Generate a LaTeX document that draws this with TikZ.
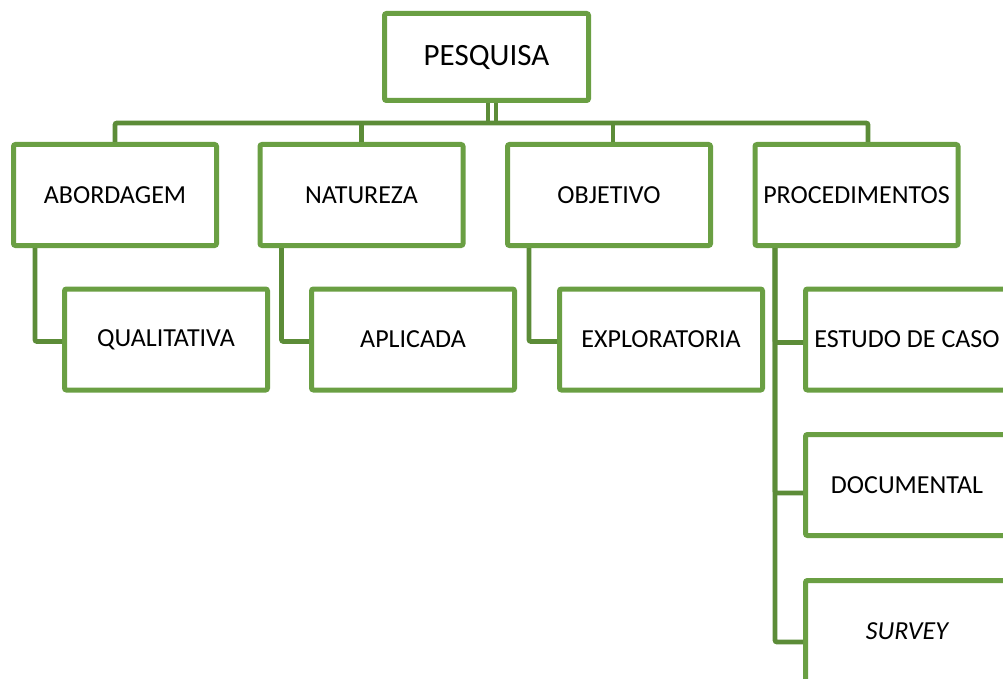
\documentclass[tikz,border=0pt]{standalone}
\usepackage{fontspec}
\setmainfont{Carlito}
\usetikzlibrary{positioning,backgrounds}
\definecolor{boxgreen}{RGB}{106,159,67}
\definecolor{linegreen}{RGB}{92,140,56}
\tikzset{%
  box/.style    = {rectangle, draw=boxgreen, line width=5pt, fill=white, rounded corners=2pt,
                   minimum width=203pt, minimum height=101pt, inner sep=0pt, align=center,
                   font=\fontsize{26}{31}\selectfont},
  topbox/.style = {box, minimum width=204pt, minimum height=87pt, font=\fontsize{31}{37}\selectfont},
  conn/.style   = {draw=linegreen, line width=4.8pt, rounded corners=2pt}
}
\begin{document}
\begin{tikzpicture}[x=1pt,y=-1pt]
  \useasboundingbox (0,0) rectangle (1003,679);
  \clip (0,0) rectangle (1003,679);
  % top
  \node[topbox] (pesquisa) at (486.5,57) {PESQUISA};
  % first level
  \node[box] (abordagem)     at (115,195)   {ABORDAGEM};
  \node[box] (natureza)      at (361.5,195) {NATUREZA};
  \node[box] (objetivo)      at (609,195)   {OBJETIVO};
  \node[box] (procedimentos) at (856.5,195) {PROCEDIMENTOS};
  % second level
  \node[box] (qualitativa)  at (166,339.5) {QUALITATIVA};
  \node[box] (aplicada)     at (413,339.5) {APLICADA};
  \node[box] (exploratoria) at (661,339.5) {EXPLORATORIA};
  \node[box] (estudo)       at (907,339.5) {ESTUDO DE CASO};
  \node[box] (documental)   at (907,485)   {DOCUMENTAL};
  \node[box] (survey)       at (907,631)   {\itshape SURVEY};
  % connectors
  \coordinate (bar) at (490,123);
  \draw[conn] ([xshift=1.5pt]pesquisa.south) -- ([xshift=1.5pt]pesquisa.south |- bar);
  \draw[conn] ([xshift=9.5pt]pesquisa.south) -- ([xshift=9.5pt]pesquisa.south |- bar);
  \draw[conn] (abordagem.north) |- (bar) -| ([xshift=11.5pt]procedimentos.north);
  \draw[conn] (natureza.north) -- (natureza.north |- bar);
  \draw[conn] ([xshift=4pt]objetivo.north) -- ([xshift=4pt]objetivo.north |- bar);
  \draw[conn] ([xshift=-80pt]abordagem.south) |- ([yshift=-2pt]qualitativa.west);
  \draw[conn] ([xshift=-80pt]natureza.south) |- ([yshift=-2pt]aplicada.west);
  \draw[conn] ([xshift=-80pt]objetivo.south) |- ([yshift=-2pt]exploratoria.west);
  \draw[conn] ([xshift=-81.5pt]procedimentos.south) |- ([yshift=-11pt]survey.west);
  \draw[conn] ([xshift=-81.5pt]procedimentos.south) |- ([yshift=-3pt]estudo.west);
  \draw[conn] ([xshift=-81.5pt]procedimentos.south) |- ([yshift=-8pt]documental.west);
\end{tikzpicture}
\end{document}
